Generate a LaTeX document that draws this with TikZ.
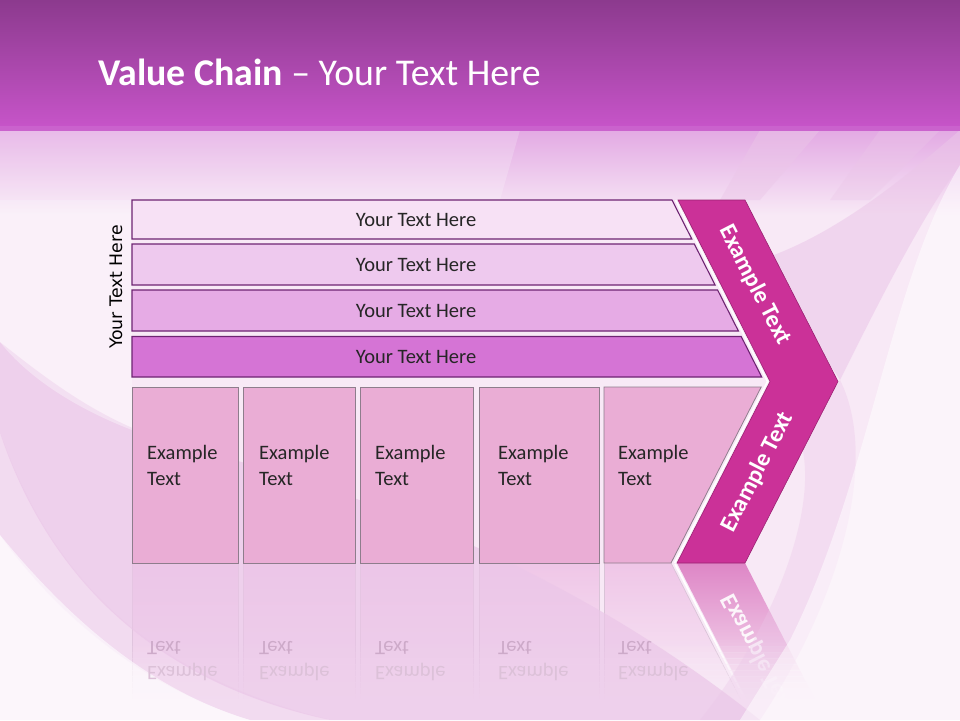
\documentclass[tikz,border=0pt]{standalone}
\usepackage{fontspec}
\setmainfont{Carlito}
\newfontfamily\dejavu{DejaVu Sans}
\definecolor{bandtop}{HTML}{8C3A8E}
\definecolor{bandbot}{HTML}{C654C8}
\definecolor{bgc}{HTML}{F8E9F6}
\definecolor{bgpink}{HTML}{EBC6E8}
\definecolor{barA}{HTML}{F7E1F5}
\definecolor{barB}{HTML}{EEC9EE}
\definecolor{barC}{HTML}{E6ABE5}
\definecolor{barD}{HTML}{D574D5}
\definecolor{barline}{HTML}{6E2472}
\definecolor{boxfill}{HTML}{EAADD5}
\definecolor{boxline}{HTML}{8E7D8C}
\definecolor{reflfill}{HTML}{EFC6E7}
\definecolor{reflline}{HTML}{D9C3D7}
\definecolor{chev}{HTML}{CB3198}
\definecolor{chevline}{HTML}{9A2272}
\definecolor{chevrefl}{HTML}{DE86C6}
\definecolor{txt}{HTML}{262626}
\definecolor{refltxtA}{HTML}{CDAAC9}
\definecolor{refltxtB}{HTML}{DCC1D8}
\tikzset{
  barshape/.style={draw=barline, line width=1.1pt},
  boxshape/.style={fill=boxfill, draw=boxline, line width=0.8pt},
  reflbox/.style={top color=reflfill, bottom color=bgc},
  refledge/.style={draw=reflline, line width=0.7pt},
  bartext/.style={font=\fontsize{20.5}{24}\selectfont, text=txt, inner sep=0pt},
  boxtext/.style={font=\fontsize{20.5}{24}\selectfont, text=txt, anchor=base west, inner sep=0pt},
  refltext/.style={font=\fontsize{20.5}{24}\selectfont, anchor=base west, inner sep=0pt, yscale=-1},
  chevtext/.style={font=\fontsize{24}{28}\selectfont\bfseries, text=white, inner sep=0pt},
}
\begin{document}
\begin{tikzpicture}[x=1pt,y=-1pt]
\useasboundingbox (0,0) rectangle (960,720);
% ---------- background ----------
\fill[bgc] (0,0) rectangle (960,720);
\shade[top color=bandbot!50!white, bottom color=bgc] (0,130) rectangle (960,215);
% ---------- reflection of boxes ----------
\path[reflbox] (132,563) rectangle (238,700);
\path[reflbox] (243,563) rectangle (355.5,700);
\path[reflbox] (360,563) rectangle (473.5,700);
\path[reflbox] (479,563) rectangle (599.5,700);
\path[reflbox] (604,563) -- (671,563) -- (741,700) -- (604,700) -- cycle;
\foreach \xa/\xb in {132/238,243/355.5,360/473.5,479/599.5}{
  \draw[refledge] (\xa,563) -- (\xa,700) (\xb,563) -- (\xb,700);
}
\draw[refledge] (604,563) -- (604,700);
\draw[refledge] (671,563) -- (741,700);
% ---------- reflection of chevron ----------
\shade[top color=chevrefl, bottom color=bgc] (677,563) -- (745,563) -- (817.8,705) -- (749.8,705) -- cycle;
\draw[white, line width=1.8pt] (675,564) -- (748,705);
\begin{scope}
\clip (677,563) -- (745,563) -- (845,758) -- (777,758) -- cycle;
\node[chevtext, rotate=-62.9, yscale=-1, opacity=0.9] (cr) at (757.6,654) {Example Text};
\end{scope}
% fade-out of the reflections
\foreach \i in {0,...,9}{
  \fill[bgc, opacity=\i/10+0.06] (128,{640+\i*6}) rectangle (860,{646.5+\i*6});
}
\fill[bgc] (128,699) rectangle (860,720);
% ---------- swooshes ----------
\fill[bgpink, opacity=0.7] (0,342) .. controls (60,390) and (110,425) .. (180,445)
  .. controls (350,490) and (560,560) .. (760,720) -- (330,720)
  .. controls (190,690) and (60,610) .. (0,433) -- cycle;
\fill[bgpink, opacity=0.4] (0,433) .. controls (60,600) and (170,680) .. (330,720) -- (250,720)
  .. controls (150,690) and (60,620) .. (0,535) -- cycle;
\fill[white, opacity=0.6] (0,535) .. controls (70,620) and (150,690) .. (250,720) -- (0,720) -- cycle;
\fill[white, opacity=0.35] (0,200) -- (132,200) -- (132,430)
  .. controls (80,410) and (30,380) .. (0,342) -- cycle;
\fill[bgpink, opacity=0.55] (960,130) .. controls (880,200) and (820,240) .. (760,260)
  -- (840,380) .. controls (880,300) and (920,220) .. (960,165) -- cycle;
\fill[bgpink, opacity=0.35] (840,380) .. controls (880,460) and (840,600) .. (760,720) -- (700,720)
  .. controls (780,620) and (820,500) .. (800,440) -- cycle;
\fill[white, opacity=0.5] (960,165) .. controls (890,280) and (870,480) .. (790,640)
  -- (740,720) -- (960,720) -- cycle;
\fill[bgpink, opacity=0.45] (760,130) -- (820,130) -- (760,200) -- (720,200) -- cycle;
\fill[bgpink, opacity=0.35] (880,130) -- (940,130) -- (870,200) -- (830,200) -- cycle;
\fill[white, opacity=0.2] (0,130) -- (520,130) -- (500,200) -- (0,200) -- cycle;
% reflected box texts
\foreach \xx/\nm in {147/r1,259/r2,375/r3,498/r4,618/r5}{
  \node[refltext, text=refltxtA] (\nm a) at (\xx,641) {Text};
  \node[refltext, text=refltxtB] (\nm b) at (\xx,666.5) {Example};
}
% ---------- title band ----------
\shade[top color=bandtop, bottom color=bandbot] (0,0) rectangle (960,126);
\fill[bandbot!92!white] (0,126) rectangle (960,131);
\node[font=\fontsize{37.8}{42}\selectfont, text=white, anchor=base west, inner sep=0pt] (title)
  at (98,85) {\textbf{Value Chain} – Your Text Here};
% ---------- side label ----------
\node[font=\dejavu\fontsize{17.3}{20}\selectfont, text=black, rotate=90, inner sep=0pt] (side)
  at (116,287) {Your Text Here};
% ---------- bars ----------
\path[barshape, fill=barA] (132,200) -- (672,200) -- (691.8,239) -- (132,239) -- cycle;
\path[barshape, fill=barB] (132,244) -- (694.3,244) -- (715.1,285) -- (132,285) -- cycle;
\path[barshape, fill=barC] (132,290) -- (717.6,290) -- (738.4,331) -- (132,331) -- cycle;
\path[barshape, fill=barD] (132,336.5) -- (741.2,336.5) -- (761.7,377) -- (132,377) -- cycle;
\node[bartext] (b1) at (416,219.5) {Your Text Here};
\node[bartext] (b2) at (416,264.5) {Your Text Here};
\node[bartext] (b3) at (416,310.5) {Your Text Here};
\node[bartext] (b4) at (416,356.5) {Your Text Here};
% ---------- boxes ----------
\path[boxshape] (132,387) rectangle (238,563);
\path[boxshape] (243,387) rectangle (355.5,563);
\path[boxshape] (360,387) rectangle (473.5,563);
\path[boxshape] (479,387) rectangle (599.5,563);
\path[boxshape] (604,387) -- (761.2,387) -- (671,563) -- (604,563) -- cycle;
\foreach \xx/\nm in {147/t1,259/t2,375/t3,498/t4,618/t5}{
  \node[boxtext] (\nm a) at (\xx,459.5) {Example};
  \node[boxtext] (\nm b) at (\xx,485) {Text};
}
% ---------- chevron ----------
\path[fill=chev, draw=chevline, line width=0.6pt] (678,200) -- (745,200) -- (838,381.5) -- (745,563)
  -- (677,563) -- (770,381.5) -- cycle;
\draw[white, line width=1.6pt, line join=miter] (675.5,200) -- (767.5,381.5) -- (674.5,563);
\node[chevtext, rotate=-62.9] (c1) at (755,285) {Example Text};
\node[chevtext, rotate=62.9] (c2) at (757.6,472) {Example Text};
\end{tikzpicture}
\end{document}
